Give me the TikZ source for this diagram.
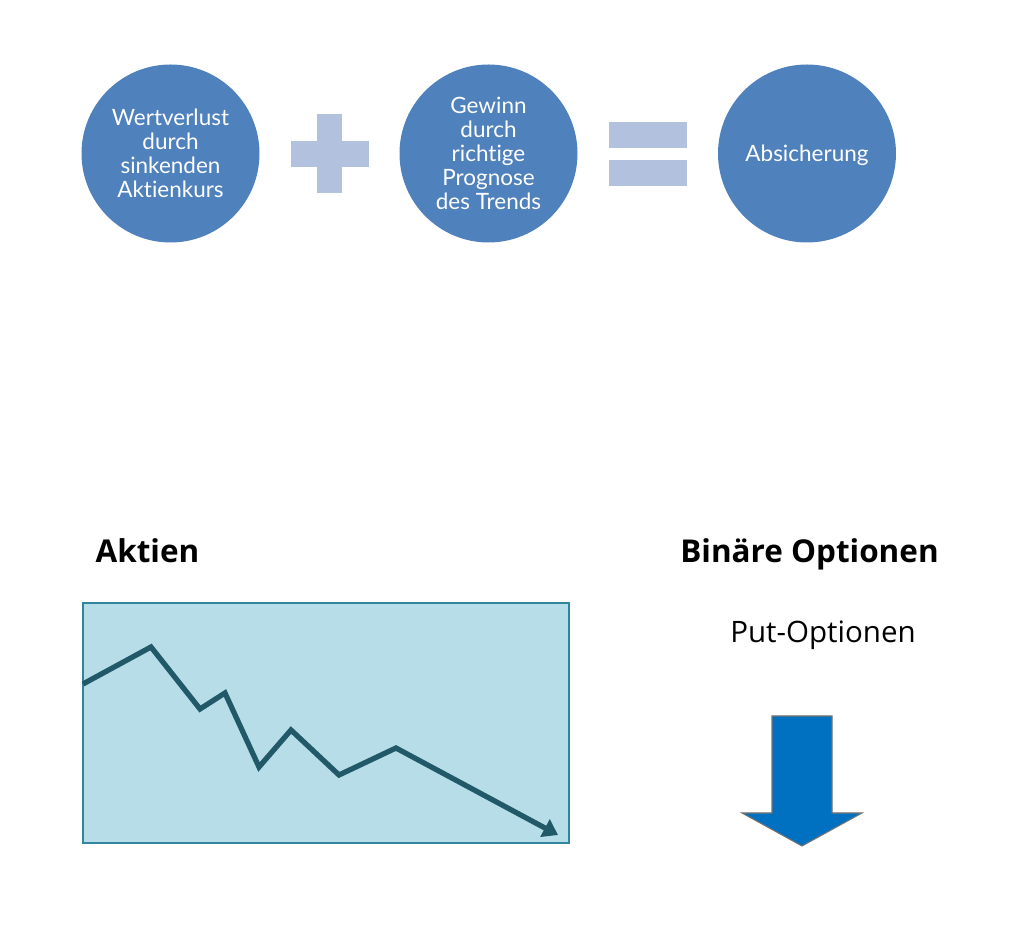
\documentclass[tikz,border=0pt]{standalone}
\usepackage{xcolor}
\usepackage{tikz}
\usepackage{fontspec}
\usetikzlibrary{arrows.meta}
\setmainfont{Open Sans}
\newfontfamily\circlefont[Ligatures=NoCommon]{Lato}
\definecolor{hedgeblue}{RGB}{79, 129, 189}
\definecolor{hedgelight}{RGB}{178, 193, 221}
\definecolor{chartfill}{RGB}{183, 221, 232}
\definecolor{chartedge}{RGB}{49, 133, 156}
\definecolor{chartline}{RGB}{33, 89, 104}
\definecolor{putblue}{RGB}{0, 112, 192}
\tikzset{
    termcircle/.style={circle, fill=hedgeblue, minimum size=1.78cm, inner sep=0pt, align=center,
        text=white, font=\circlefont\fontsize{6.4}{6.8}\selectfont},
    opbar/.style={fill=hedgelight, draw=none},
    headline/.style={font=\bfseries\fontsize{8.95}{10}\selectfont, inner sep=0pt, anchor=base},
}

\begin{document}
\begin{tikzpicture}
    \useasboundingbox (0,0) rectangle (10.24,9.29);

    % Top row of circles
    \node[termcircle] (loss) at (1.705,7.755) {Wertverlust\\durch\\sinkenden\\Aktienkurs};
    \node[termcircle] (gain) at (4.885,7.755) {Gewinn\\durch\\richtige\\Prognose\\des Trends};
    \node[termcircle, text depth=0pt] (hedge) at (8.07,7.755) {Absicherung};

    % Plus sign
    \fill[opbar] (3.17,7.36) rectangle (3.42,8.15);
    \fill[opbar] (2.91,7.62) rectangle (3.69,7.88);

    % Equals sign
    \fill[opbar] (6.09,7.81) rectangle (6.87,8.07);
    \fill[opbar] (6.09,7.43) rectangle (6.87,7.69);

    % Headings
    \node[headline] (stocks) at (1.475,3.66) {Aktien};
    \node[headline] (binary) at (8.095,3.66) {Binäre Optionen};
    \node[inner sep=0pt, anchor=base, font=\fontsize{8.4}{10}\selectfont] (put) at (8.23,2.86) {Put-Optionen};

    % Share price chart
    \draw[fill=chartfill, draw=chartedge, line width=0.35pt] (0.83,0.86) rectangle (5.69,3.26);
    \draw[chartline, line width=1.5pt, -{Triangle[length=4.2pt,width=5.5pt]}]
        (0.83,2.45) -- (1.51,2.82) -- (2.00,2.20) -- (2.25,2.36) -- (2.59,1.62)
        -- (2.91,1.99) -- (3.39,1.54) -- (3.96,1.81) -- (5.58,0.94);

    % Put arrow
    \draw[fill=putblue, draw=black!55, line width=0.3pt] (7.72,2.13) -- (8.32,2.13) -- (8.32,1.16)
        -- (8.62,1.16) -- (8.02,0.83) -- (7.42,1.16) -- (7.72,1.16) -- cycle;
\end{tikzpicture}
\end{document}
